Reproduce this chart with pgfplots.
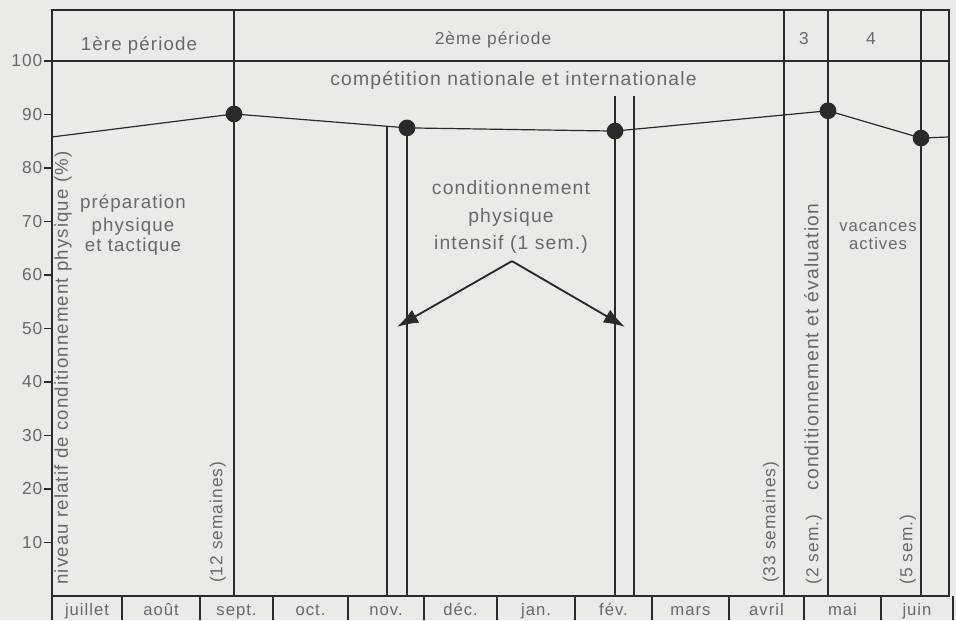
\documentclass[border=0pt]{standalone}
\usepackage{fontspec}
\setmainfont{Liberation Sans}[LetterSpace=6]
\usepackage{pgfplots}
\pgfplotsset{compat=1.18}
\usetikzlibrary{arrows.meta}
\definecolor{bgc}{RGB}{234,234,231}
\definecolor{ink}{RGB}{42,42,42}
\definecolor{txt}{RGB}{105,105,105}
\newcommand{\fs}[1]{\fontsize{#1}{#1}\selectfont}
\tikzset{t/.style={text=txt, inner sep=0pt}, vl/.style={ink, line width=0.85pt}}
\begin{document}
\begin{tikzpicture}
\fill[bgc] (-39pt,-18pt) rectangle (678pt,447pt);
\begin{axis}[
  at={(0,0)}, anchor=south west,
  x=0.75pt, y=4.0125pt,
  xmin=0, xmax=897, ymin=0, ymax=109.5,
  clip=false,
  axis line style={ink, line width=1.3pt},
  xtick=\empty,
  ytick={10,20,...,100},
  ytick pos=left,
  tick align=outside,
  major tick length=6pt,
  y tick style={ink, line width=1.1pt},
  yticklabel style={font=\fs{13}, text=txt, inner xsep=1pt},
  /pgf/number format/assume math mode=true,
]
% header separation line at 100
\draw[ink, line width=1.3pt] (0,100) -- (897,100);
% month strip
\draw[ink, line width=1.3pt] (0,0) -- (0,-4.5);
\draw[vl] (70,0) -- (70,-4.5);
\draw[vl] (148,0) -- (148,-4.5);
\draw[vl] (221,0) -- (221,-4.5);
\draw[vl] (296,0) -- (296,-4.5);
\draw[vl] (372,0) -- (372,-4.5);
\draw[vl] (445,0) -- (445,-4.5);
\draw[vl] (523,0) -- (523,-4.5);
\draw[vl] (600,0) -- (600,-4.5);
\draw[vl] (677,0) -- (677,-4.5);
\draw[vl] (752,0) -- (752,-4.5);
\draw[vl] (829,0) -- (829,-4.5);
\draw[vl] (901,0) -- (901,-4.5);
\node[t, anchor=base, font=\fs{12.5}] at (35,-3.6) {juillet};
\node[t, anchor=base, font=\fs{12.5}] at (109,-3.6) {août};
\node[t, anchor=base, font=\fs{12.5}] at (184.5,-3.6) {sept.};
\node[t, anchor=base, font=\fs{12.5}] at (258.5,-3.6) {oct.};
\node[t, anchor=base, font=\fs{12.5}] at (334,-3.6) {nov.};
\node[t, anchor=base, font=\fs{12.5}] at (408.5,-3.6) {déc.};
\node[t, anchor=base, font=\fs{12.5}] at (484,-3.6) {jan.};
\node[t, anchor=base, font=\fs{12.5}] at (561.5,-3.6) {fév.};
\node[t, anchor=base, font=\fs{12.5}] at (638.5,-3.6) {mars};
\node[t, anchor=base, font=\fs{12.5}] at (714.5,-3.6) {avril};
\node[t, anchor=base, font=\fs{12.5}] at (790.5,-3.6) {mai};
\node[t, anchor=base, font=\fs{12.5}] at (865,-3.6) {juin};
% period separators
\draw[vl] (182,0) -- (182,109.5);
\draw[vl] (335,0) -- (335,87.8);
\draw[vl] (355,0) -- (355,87.5);
\draw[vl] (563,0) -- (563,93.5);
\draw[vl] (582,0) -- (582,93.5);
\draw[vl] (732,0) -- (732,109.5);
\draw[vl] (776,0) -- (776,109.5);
\draw[vl] (869,0) -- (869,109.5);
% curve
\addplot[ink, line width=0.9pt, mark=*, mark size=5.8pt, mark indices={2,3,4,5,6},
  mark options={fill=ink, draw=ink}] coordinates {
  (0,85.8) (182,90.1) (355,87.5) (563,86.9) (776,90.7) (869,85.6) (897,85.8)};
% arrows
\draw[ink, line width=1.4pt, -{Latex[length=16pt, width=11pt]}] (460,62.6) -- (345,50.3);
\draw[ink, line width=1.4pt, -{Latex[length=16pt, width=11pt]}] (460,62.6) -- (573,50.3);
% header texts
\node[t, anchor=base, font=\fs{14}] at (87,101.9) {1ère période};
\node[t, anchor=base, font=\fs{13}] at (441,103.0) {2ème période};
\node[t, anchor=base, font=\fs{13}] at (752,103.0) {3};
\node[t, anchor=base, font=\fs{13}] at (819,103.0) {4};
\node[t, anchor=base, font=\fs{14.5}] at (461.5,95.5) {compétition nationale et internationale};
% body texts
\node[t, anchor=base, font=\fs{14}] at (81,72.5) {préparation};
\node[t, anchor=base, font=\fs{14}] at (81,68.2) {physique};
\node[t, anchor=base, font=\fs{14}] at (81,64.3) {et tactique};
\node[t, anchor=base, font=\fs{14.5}] at (459,75.0) {conditionnement};
\node[t, anchor=base, font=\fs{14.5}] at (459,69.9) {physique};
\node[t, anchor=base, font=\fs{14.5}] at (459,64.7) {intensif (1 sem.)};
\node[t, anchor=base, font=\fs{12.5}] at (826,68.1) {vacances};
\node[t, anchor=base, font=\fs{12.5}] at (826,64.7) {actives};
% rotated texts
\node[t, rotate=90, anchor=west, font=\fs{14}] at (11,2.1) {niveau relatif de conditionnement physique (\%)};
\node[t, rotate=90, anchor=west, font=\fs{13}] at (166,2.4) {(12 semaines)};
\node[t, rotate=90, anchor=west, font=\fs{13}] at (719,2.4) {(33 semaines)};
\node[t, rotate=90, anchor=west, font=\fs{13}] at (761,2.1) {(2 sem.)\hspace{18pt}{\fs{14.5}conditionnement et évaluation}};
\node[t, rotate=90, anchor=west, font=\fs{13}] at (856,2.1) {(5 sem.)};
\end{axis}
\end{tikzpicture}
\end{document}
